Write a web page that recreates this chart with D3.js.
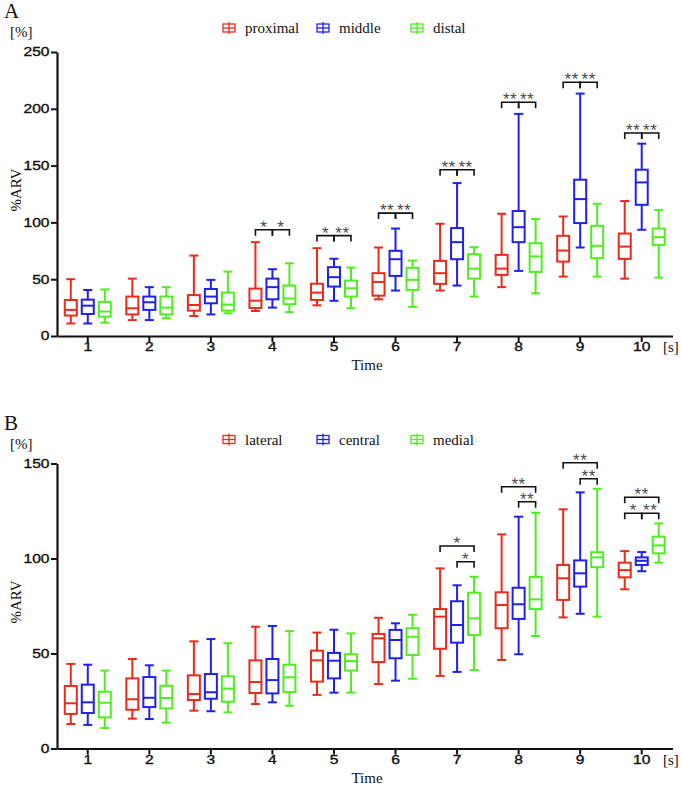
<!DOCTYPE html>
<html>
<head>
<meta charset="utf-8">
<script src="https://cdn.jsdelivr.net/npm/d3@7"></script>
<style>
  body { margin: 0; background: #fff; }
  text { fill: #111; }
</style>
</head>
<body>
<svg id="chart" width="682" height="786"></svg>
<script>
// time points (seconds)
const times = ["1", "2", "3", "4", "5", "6", "7", "8", "9", "10"];
const colors = ["#ec2a1c", "#2020f0", "#50ee20"];

// each entry: [min, q1, median, q3, max]  (%ARV)
const seriesA = ["proximal", "middle", "distal"];
const proximal = [
  [11, 18, 23, 31.7, 50], [14, 19, 24.4, 34.7, 50.5], [17.6, 22.3, 27.3, 36, 70.8],
  [22, 24.7, 31.1, 41.7, 82.6], [27, 31.7, 38.2, 46, 77.3], [32.3, 35.5, 47.6, 55.3, 77.9],
  [40, 45.9, 55.3, 66.1, 98.8], [43, 53.8, 59.3, 71.4, 107.6], [52.3, 65.5, 75.2, 88.2, 105.2],
  [50.5, 67.9, 78.7, 90.2, 118.8]
];
const middle = [
  [11, 19.4, 26.7, 32, 40.5], [14, 23, 29.7, 34.7, 43], [19, 28.8, 34.7, 41.4, 49.4],
  [25, 32.3, 43, 50.5, 58.8], [31, 43.5, 51.8, 60.6, 68], [40, 52.9, 67.6, 75, 94.6],
  [44.4, 67.6, 82.6, 95, 134.6], [57.3, 82.6, 95.8, 110, 195.5], [77.9, 99.4, 120.5, 137.6, 213.4],
  [93.5, 115.5, 135.2, 146.4, 169.3]
];
const distal = [
  [11.7, 17, 21.5, 30, 41], [15.5, 19, 25, 34.7, 43], [20, 22.3, 27.6, 38.2, 56.7],
  [21, 28, 33, 44.4, 64], [24.4, 34.7, 42, 48.8, 60.2], [25.6, 40.6, 49.4, 60, 66.4],
  [34.7, 50.5, 59.3, 72, 78.2], [37.6, 56.4, 70, 81.7, 103], [52.3, 68.5, 79.4, 97, 116.4],
  [51.4, 80.2, 87, 94.6, 111]
];

const seriesB = ["lateral", "central", "medial"];
const lateral = [
  [12.9, 18.2, 23.8, 32.9, 44.5], [15.7, 20.4, 25.9, 36.9, 47.1], [19.9, 25.5, 28.7, 38.5, 56.4],
  [23.4, 29.2, 35, 46.4, 64.1], [28.2, 35.2, 46.4, 51.5, 61], [33.9, 45.5, 58, 60.3, 68.8],
  [38.2, 52.5, 69.4, 73.4, 94.8], [46.6, 63.3, 75.5, 82.2, 112.7], [69, 78.2, 89.6, 96.6, 125.9],
  [83.8, 90.1, 93.9, 97.8, 103.9]
];
const central = [
  [12.4, 18.7, 24.3, 33.6, 44.1], [15.5, 21.8, 26.7, 37.6, 43.8], [19.6, 26.2, 29.6, 39.2, 57.6],
  [24.3, 29, 36, 47.1, 64.5], [29.4, 36.9, 46.2, 50.3, 62.5], [35.7, 47.5, 57.1, 62.4, 65.9],
  [40.3, 55.7, 65, 77.5, 85.9], [49.6, 68.2, 75.9, 84.6, 122], [70.9, 85.2, 92.2, 99, 134.8],
  [93.3, 96.6, 98.8, 100.6, 103.4]
];
const medial = [
  [10.8, 16.4, 24.1, 29.9, 41], [13.6, 21.1, 26.6, 33, 41], [19, 24.6, 31.5, 38, 55.4],
  [22.5, 29.7, 37.5, 44.1, 61.8], [29.4, 41, 46, 49.6, 60.6], [36.7, 49.2, 58.8, 63.3, 70.4],
  [41.3, 59.7, 68.5, 82, 90.4], [59.2, 73.4, 78.5, 90.3, 124.1], [69.4, 95.4, 100.6, 103.3, 136.7],
  [97.8, 102.7, 106.9, 111.5, 118.5]
];

// significance brackets: time, from series index, to series index, bracket level, stars
const sigA = [
  ["4", 0, 1, 93.5, "*"], ["4", 1, 2, 93.5, "*"],
  ["5", 0, 1, 88.4, "*"], ["5", 1, 2, 88.4, "**"],
  ["6", 0, 1, 108.2, "**"], ["6", 1, 2, 108.2, "**"],
  ["7", 0, 1, 146.4, "**"], ["7", 1, 2, 146.4, "**"],
  ["8", 0, 1, 205.7, "**"], ["8", 1, 2, 205.7, "**"],
  ["9", 0, 1, 223.4, "**"], ["9", 1, 2, 223.4, "**"],
  ["10", 0, 1, 178.7, "**"], ["10", 1, 2, 178.7, "**"]
];
const sigB = [
  ["7", 0, 2, 106.6, "*"], ["7", 1, 2, 98.3, "*"],
  ["8", 0, 2, 137.8, "**"], ["8", 1, 2, 129.9, "**"],
  ["9", 0, 2, 150.4, "**"], ["9", 1, 2, 142, "**"],
  ["10", 0, 2, 132.2, "**"], ["10", 0, 1, 123.8, "*"], ["10", 1, 2, 123.8, "**"]
];

const svg = d3.select("#chart");
const serif = "'Liberation Serif', 'Times New Roman', serif";
const sans = "'Liberation Sans', Arial, sans-serif";

const x = d3.scaleBand().domain(times).range([57, 672.5]).padding(0);
const inner = d3.scalePoint().domain([0, 1, 2]).range([-17, 17]);

function drawPanel(p) {
  const g = svg.append("g");
  const y = d3.scaleLinear().domain([0, p.max]).range([p.bottom, p.top]);

  // panel letter, unit, axis title
  g.append("text").attr("x", 4).attr("y", p.top - 34).attr("font-family", serif)
    .attr("font-size", 21).text(p.letter);
  g.append("text").attr("x", 10).attr("y", p.top - 15).attr("font-family", serif)
    .attr("font-size", 15).text("[%]");
  g.append("text").attr("transform", `translate(21,${(p.top + p.bottom) / 2 - 4}) rotate(-90)`)
    .attr("text-anchor", "middle").attr("font-family", serif).attr("font-size", 15).text("%ARV");
  g.append("text").attr("x", 367).attr("y", p.bottom + 34).attr("text-anchor", "middle")
    .attr("font-family", serif).attr("font-size", 15).text("Time");
  g.append("text").attr("x", 663).attr("y", p.bottom + 16).attr("font-family", serif)
    .attr("font-size", 15).text("[s]");

  // legend
  const leg = g.selectAll(".leg").data(p.names).join("g")
    .attr("transform", (d, i) => `translate(${229 + i * 94},${p.top - 24})`);
  leg.append("rect").attr("x", -6).attr("y", -4).attr("width", 12).attr("height", 8)
    .attr("fill", "none").attr("stroke", (d, i) => colors[i]).attr("stroke-width", 1.3);
  leg.append("line").attr("x1", -6).attr("x2", 6)
    .attr("stroke", (d, i) => colors[i]).attr("stroke-width", 1.3);
  leg.append("line").attr("y1", -6).attr("y2", 6)
    .attr("stroke", (d, i) => colors[i]).attr("stroke-width", 1.3);
  leg.append("text").attr("x", 16).attr("y", 5).attr("font-family", serif)
    .attr("font-size", 15).text(d => d);

  // axes
  const ya = g.append("g").attr("transform", "translate(57,0)")
    .call(d3.axisLeft(y).tickValues(d3.range(0, p.max + 1, 50)).tickSize(6).tickSizeOuter(0));
  const xa = g.append("g").attr("transform", `translate(0,${p.bottom})`)
    .call(d3.axisBottom(x).tickSize(6).tickSizeOuter(0).tickPadding(0.5));
  [ya, xa].forEach(a => {
    a.select(".domain").attr("stroke", "#111").attr("stroke-width", 2.2);
    a.selectAll(".tick line").attr("stroke", "#111").attr("stroke-width", 2);
    a.selectAll(".tick text").attr("font-family", sans).attr("font-size", 12)
      .attr("fill", "#111").attr("stroke", "#111").attr("stroke-width", 0.35)
      .attr("transform", "scale(1.3,1)");
  });
  ya.selectAll(".tick text").attr("x", -7.5 / 1.3);

  // boxes
  p.data.forEach((series, si) => {
    const bx = g.append("g").selectAll("g").data(series).join("g")
      .attr("transform", (d, i) => `translate(${x(times[i]) + x.bandwidth() / 2 + inner(si)},0)`)
      .attr("stroke", colors[si]).attr("stroke-width", 2).attr("fill", "none");
    bx.append("line").attr("y1", d => y(d[3])).attr("y2", d => y(d[4]));
    bx.append("line").attr("y1", d => y(d[1])).attr("y2", d => y(d[0]));
    bx.append("line").attr("x1", -4.5).attr("x2", 4.5).attr("y1", d => y(d[4])).attr("y2", d => y(d[4]));
    bx.append("line").attr("x1", -4.5).attr("x2", 4.5).attr("y1", d => y(d[0])).attr("y2", d => y(d[0]));
    bx.append("rect").attr("x", -6).attr("width", 12)
      .attr("y", d => y(d[3])).attr("height", d => y(d[1]) - y(d[3])).attr("fill", "#fff");
    bx.append("line").attr("x1", -6).attr("x2", 6).attr("y1", d => y(d[2])).attr("y2", d => y(d[2]));
  });

  // significance brackets
  p.sig.forEach(([t, a, b, lvl, lab]) => {
    const cx = x(t) + x.bandwidth() / 2;
    const x1 = cx + inner(a), x2 = cx + inner(b), yy = y(lvl);
    g.append("path").attr("d", `M${x1},${yy + 6}V${yy}H${x2}V${yy + 6}`)
      .attr("fill", "none").attr("stroke", "#111").attr("stroke-width", 1.6);
    g.append("text").attr("x", (x1 + x2) / 2).attr("y", yy + 3).attr("text-anchor", "middle")
      .attr("font-family", sans).attr("font-size", 17).attr("letter-spacing", 0.5)
      .style("fill", "#4a4a4a").text(lab);
  });
}

drawPanel({ letter: "A", names: seriesA, data: [proximal, middle, distal], sig: sigA, max: 250, top: 52, bottom: 336 });
drawPanel({ letter: "B", names: seriesB, data: [lateral, central, medial], sig: sigB, max: 150, top: 463.5, bottom: 748.5 });
</script>
</body>
</html>
